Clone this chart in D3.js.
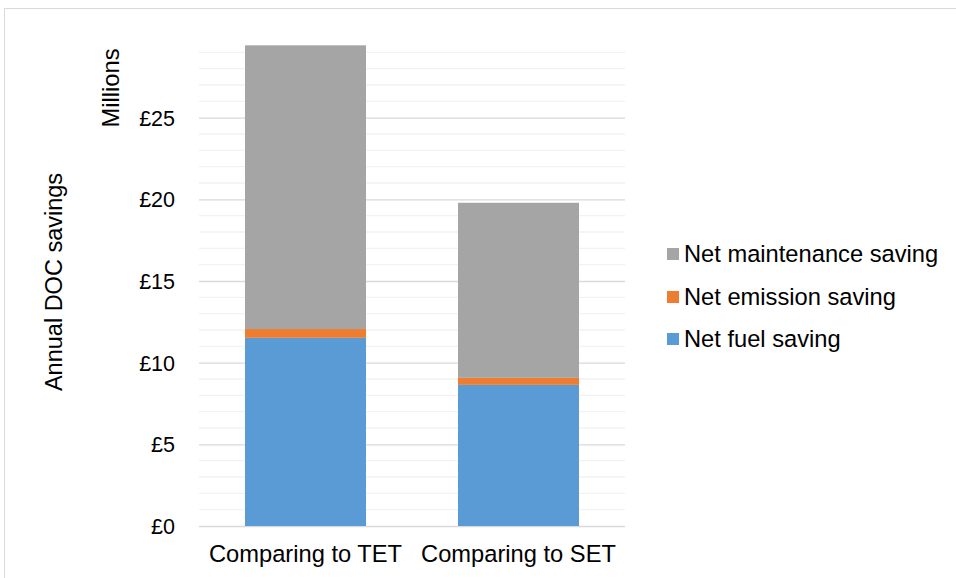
<!DOCTYPE html>
<html>
<head>
<meta charset="utf-8">
<script src="https://cdn.jsdelivr.net/npm/d3@7"></script>
<style>
  body { margin: 0; background: #fff; }
  svg { display: block; font-family: "Liberation Sans", Arial, sans-serif; }
</style>
</head>
<body>
<div id="chart"></div>
<script>
// Data (values in £ millions)
const categories = ["Comparing to TET", "Comparing to SET"];
const fuelSaving = [11.52, 8.64];
const emissionSaving = [0.54, 0.43];
const maintenanceSaving = [17.37, 10.72];
const seriesNames = ["Net fuel saving", "Net emission saving", "Net maintenance saving"];
const yTicks = [0, 5, 10, 15, 20, 25];

const W = 956, H = 578;
const colors = ["#5b9bd5", "#ed7d31", "#a5a5a5"];
const labelSize = "23.7px";

const svg = d3.select("#chart").append("svg")
  .attr("width", W)
  .attr("height", H);

// chart frame
svg.append("rect")
  .attr("x", 4.5).attr("y", 8.5)
  .attr("width", W + 10).attr("height", H + 10)
  .attr("fill", "none")
  .attr("stroke", "#d9d9d9");

const plot = { left: 199, right: 625, top: 45, bottom: 526 };

const x = d3.scaleBand()
  .domain(categories)
  .range([plot.left, plot.right])
  .paddingInner(0.432)
  .paddingOuter(0.216);

const y = d3.scaleLinear()
  .domain([0, 29.45])
  .range([plot.bottom, plot.top]);

// minor gridlines
const minor = d3.range(1, 30).filter(d => d % 5 !== 0);
svg.append("g").selectAll("line")
  .data(minor)
  .join("line")
  .attr("x1", plot.left).attr("x2", plot.right)
  .attr("y1", d => y(d)).attr("y2", d => y(d))
  .attr("stroke", "#f2f2f2")
  .attr("stroke-width", 1.3);

// major gridlines via axis
const yAxis = d3.axisLeft(y)
  .tickValues(yTicks)
  .tickSize(-(plot.right - plot.left))
  .tickPadding(24)
  .tickFormat(d => "£" + d);

const yg = svg.append("g")
  .attr("transform", `translate(${plot.left},0)`)
  .call(yAxis);
yg.select(".domain").remove();
yg.selectAll(".tick line")
  .attr("stroke", "#d9d9d9")
  .attr("stroke-width", d => d === 0 ? 1.5 : 1.3);
yg.selectAll(".tick text")
  .attr("fill", "#000")
  .style("font-size", "21.5px")
  .attr("dy", "0.35em");

// stacked bars
const rows = categories.map((c, i) => ({
  cat: c,
  [seriesNames[0]]: fuelSaving[i],
  [seriesNames[1]]: emissionSaving[i],
  [seriesNames[2]]: maintenanceSaving[i]
}));
const stacked = d3.stack().keys(seriesNames)(rows);

svg.append("g").selectAll("g")
  .data(stacked)
  .join("g")
  .attr("fill", (d, i) => colors[i])
  .selectAll("rect")
  .data(d => d)
  .join("rect")
  .attr("x", d => x(d.data.cat))
  .attr("width", x.bandwidth())
  .attr("y", d => y(d[1]))
  .attr("height", d => y(d[0]) - y(d[1]));

// category labels
const xAxis = d3.axisBottom(x).tickSize(0).tickPadding(19);
const xg = svg.append("g")
  .attr("transform", `translate(0,${plot.bottom})`)
  .call(xAxis);
xg.select(".domain").remove();
xg.selectAll(".tick text")
  .attr("fill", "#000")
  .style("font-size", labelSize);

// axis titles
svg.append("text")
  .attr("transform", "translate(62,282) rotate(-90)")
  .attr("text-anchor", "middle")
  .style("font-size", "23.5px")
  .text("Annual DOC savings");

svg.append("text")
  .attr("transform", "translate(119,88) rotate(-90)")
  .attr("text-anchor", "middle")
  .style("font-size", labelSize)
  .text("Millions");

// legend (reverse order: top is maintenance)
const legendOrder = [2, 1, 0];
const legendY = [254, 297, 339];
const lg = svg.append("g").selectAll("g")
  .data(legendOrder)
  .join("g")
  .attr("transform", (d, i) => `translate(667,${legendY[i]})`);
lg.append("rect")
  .attr("x", 0).attr("y", -6)
  .attr("width", 12).attr("height", 12)
  .attr("fill", d => colors[d]);
lg.append("text")
  .attr("x", 17)
  .attr("dy", "0.35em")
  .style("font-size", labelSize)
  .text(d => seriesNames[d]);
</script>
</body>
</html>
